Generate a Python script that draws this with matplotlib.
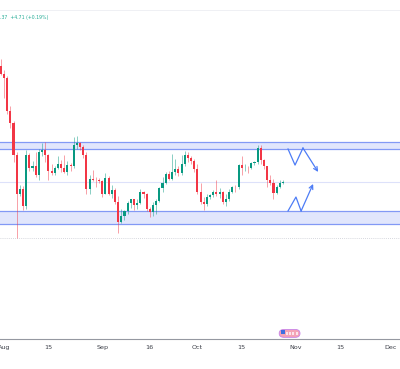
import matplotlib
matplotlib.use('Agg')
import matplotlib.pyplot as plt
import matplotlib.dates as mdates
import pandas as pd
from matplotlib.patches import Rectangle, FancyBboxPatch

# daily candles, 31 Jul -> 28 Oct
dates = pd.date_range('2024-07-31', '2024-10-28', freq='D')

opens = [3330, 3275, 3245, 3010, 2925, 2700, 2420, 2460, 2340, 2700,
         2610, 2620, 2555, 2720, 2735, 2700, 2590, 2575, 2605, 2640,
         2610, 2580, 2630, 2625, 2775, 2785, 2760, 2700, 2460, 2530,
         2525, 2520, 2515, 2425, 2535, 2425, 2450, 2365, 2225, 2265,
         2300, 2360, 2385, 2345, 2360, 2440, 2420, 2315, 2295, 2345,
         2375, 2465, 2505, 2565, 2530, 2580, 2600, 2575, 2635, 2700,
         2680, 2660, 2600, 2440, 2365, 2350, 2400, 2415, 2440, 2420,
         2440, 2370, 2385, 2440, 2475, 2470, 2630, 2605, 2610, 2605,
         2645, 2650, 2750, 2665, 2620, 2525, 2500, 2430, 2475, 2504.66]
highs = [3385, 3305, 3260, 3050, 2945, 2720, 2490, 2480, 2735, 2715,
         2660, 2720, 2740, 2785, 2790, 2710, 2640, 2620, 2690, 2665,
         2700, 2660, 2645, 2830, 2835, 2795, 2775, 2720, 2560, 2595,
         2545, 2535, 2520, 2570, 2550, 2490, 2465, 2410, 2315, 2310,
         2375, 2390, 2390, 2385, 2460, 2445, 2430, 2330, 2370, 2385,
         2475, 2545, 2580, 2590, 2705, 2670, 2625, 2700, 2730, 2720,
         2690, 2670, 2640, 2500, 2400, 2420, 2425, 2450, 2520, 2465,
         2445, 2420, 2460, 2480, 2485, 2640, 2690, 2640, 2625, 2650,
         2660, 2775, 2770, 2670, 2625, 2560, 2530, 2490, 2520, 2520]
lows = [3265, 3105, 2990, 2890, 2650, 2111, 2410, 2310, 2315, 2590,
        2585, 2545, 2525, 2690, 2650, 2525, 2560, 2560, 2600, 2580,
        2570, 2560, 2590, 2610, 2740, 2735, 2680, 2420, 2420, 2515,
        2470, 2505, 2400, 2420, 2415, 2395, 2350, 2150, 2220, 2240,
        2280, 2325, 2310, 2320, 2355, 2395, 2300, 2260, 2270, 2280,
        2370, 2440, 2495, 2520, 2520, 2560, 2550, 2555, 2620, 2650,
        2640, 2580, 2420, 2350, 2310, 2340, 2385, 2405, 2410, 2395,
        2350, 2340, 2375, 2430, 2440, 2460, 2560, 2590, 2575, 2600,
        2630, 2640, 2640, 2600, 2475, 2490, 2385, 2420, 2465, 2495]
closes = opens[1:] + [2509.37]

# zones and levels
upper_zone = (2743, 2793)
lower_zone = (2211, 2303)
mid_level = 2509
low_level = 2111

# projected paths
up_path_t = ['2024-10-29 14:00', '2024-10-31 19:00', '2024-11-03 07:00', '2024-11-08 02:00']
up_path_p = [2743, 2629, 2750, 2580]
dn_path_t = ['2024-10-29 14:00', '2024-11-01 02:00', '2024-11-02 17:00', '2024-11-06 12:00']
dn_path_p = [2303, 2402, 2303, 2495]

tick_dates = ['2024-08-01', '2024-08-15', '2024-09-01', '2024-09-16', '2024-10-01',
              '2024-10-15', '2024-11-01', '2024-11-15', '2024-12-01']
tick_labels = ['Aug', '15', 'Sep', '16', 'Oct', '15', 'Nov', '15', 'Dec']

green = '#089981'
red = '#f23645'
blue = '#4d7cf6'

fig = plt.figure(figsize=(4.0, 3.69), dpi=100)
ax = fig.add_axes([0, 1 - 339 / 369, 1, 329 / 369])

# zones
for lo, hi in [upper_zone, lower_zone]:
    ax.axhspan(lo, hi, facecolor='#e1e6fc', edgecolor='none', zorder=0)
    ax.axhline(lo, color='#8299f5', lw=0.9, zorder=1)
    ax.axhline(hi, color='#8299f5', lw=0.9, zorder=1)
ax.axhline(mid_level, color='#dde1fa', lw=0.8, zorder=1)
ax.axhline(low_level, color='#c9cbd3', lw=0.6, ls=(0, (1, 1.5)), zorder=1)

# candles
x = mdates.date2num(dates)
w = 0.66
for xi, o, h, l, c in zip(x, opens, highs, lows, closes):
    col = green if c >= o else red
    ax.plot([xi, xi], [l, h], color=col, lw=0.55, alpha=0.6, zorder=2,
            solid_capstyle='butt')
    ax.add_patch(Rectangle((xi - w / 2, min(o, c)), w, max(abs(c - o), 3),
                           facecolor=col, edgecolor='none', zorder=3))

# projected zigzags
ux = mdates.date2num(pd.to_datetime(up_path_t))
dx = mdates.date2num(pd.to_datetime(dn_path_t))
for px, pp in [(ux, up_path_p), (dx, dn_path_p)]:
    ax.plot(px[:-1], pp[:-1], color=blue, lw=0.9, zorder=4)
    ax.annotate('', xy=(px[-1], pp[-1]), xytext=(px[-2], pp[-2]),
                arrowprops=dict(arrowstyle='->', color=blue, lw=0.9,
                                shrinkA=0, shrinkB=0, mutation_scale=7),
                zorder=4)

x0 = mdates.date2num(pd.Timestamp('2024-08-01'))
ax.set_xlim(x0 - 1.26, x0 + 124.9)
ax.set_ylim(1394, 3730)

ax.set_xticks(mdates.date2num(pd.to_datetime(tick_dates)))
ax.set_xticklabels(tick_labels)
ax.tick_params(axis='x', length=0, pad=4, labelsize=4.6, colors='#3c3f48')
ax.set_yticks([])

for s in ['left', 'right']:
    ax.spines[s].set_visible(False)
ax.spines['bottom'].set_color('#9598a1')
ax.spines['bottom'].set_linewidth(0.8)
ax.spines['top'].set_color('#eceef2')
ax.spines['top'].set_linewidth(0.6)

# event badge above the time axis
badge = FancyBboxPatch((0.698, 0.005), 0.052, 0.024,
                       boxstyle='round,pad=0,rounding_size=0.012',
                       transform=ax.transAxes, facecolor='#f4a3b5',
                       edgecolor='#c783e8', lw=0.6, zorder=5, clip_on=False)
ax.add_patch(badge)
ax.add_patch(Rectangle((0.703, 0.016), 0.009, 0.010, transform=ax.transAxes,
                       facecolor='#3d6fe0', edgecolor='none', zorder=6, clip_on=False))
for k in range(4):
    ax.add_patch(Rectangle((0.715 + k * 0.008, 0.012), 0.005, 0.010,
                           transform=ax.transAxes, facecolor='#fbe3ea',
                           edgecolor='none', zorder=6, clip_on=False))

fig.text(0.0, 1 - 17 / 369, '.37  +4.71 (+0.19%)', fontsize=3.3, color='#22ab94',
         ha='left', va='center')

fig.savefig('out.png', dpi=100, facecolor='white')
